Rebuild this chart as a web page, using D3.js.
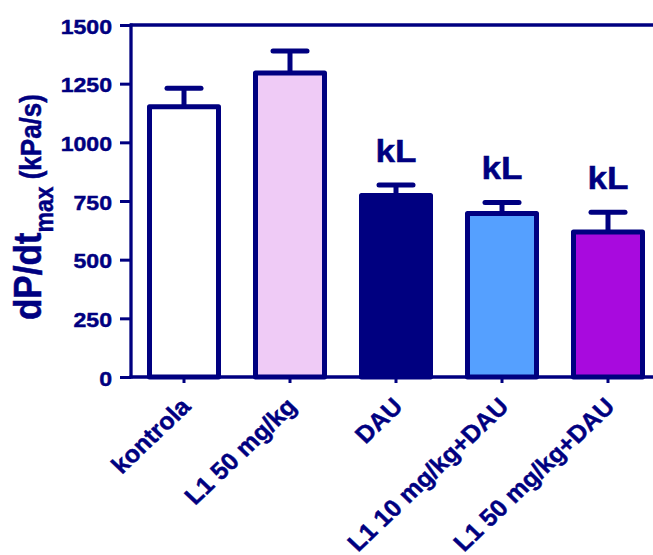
<!DOCTYPE html>
<html>
<head>
<meta charset="utf-8">
<script src="https://cdn.jsdelivr.net/npm/d3@7/dist/d3.min.js"></script>
<style>
  html, body { margin: 0; padding: 0; background: #fff; }
  svg { display: block; }
  text { font-family: "Liberation Sans", Arial, Helvetica, sans-serif; font-weight: bold; }
</style>
</head>
<body>
<svg id="chart" width="653" height="555"></svg>
<script>
// Groups, mean dP/dt max and upper error limits (kPa/s)
const groups = ["kontrola", "L1 50 mg/kg", "DAU", "L1 10 mg/kg+DAU", "L1 50 mg/kg+DAU"];
const means = [1152, 1295, 773, 697, 618];
const errorTops = [1230, 1389, 818, 744, 702];
const marks = ["", "", "kL", "kL", "kL"];
const fills = ["#ffffff", "#efcbf6", "#000080", "#55a0ff", "#a80ade"];
const yTicks = [0, 250, 500, 750, 1000, 1250, 1500];

const navy = "#000080";
const stretch = 1.1; // wide lettering

const svg = d3.select("#chart");

const y = d3.scaleLinear().domain([0, 1500]).range([377, 25]);
const x = d3.scaleBand().domain(groups).range([131, 661])
  .paddingInner(0.349).paddingOuter(0.1745);

// heavier glyphs
function heavy(sel) {
  return sel.attr("stroke", navy).attr("stroke-width", 0.45).attr("paint-order", "stroke");
}

// frame line along the top
svg.append("line")
  .attr("x1", 130).attr("x2", 653)
  .attr("y1", y(1500)).attr("y2", y(1500))
  .attr("stroke", navy).attr("stroke-width", 3.3);

// bars
svg.append("g").selectAll("rect").data(groups).join("rect")
  .attr("x", d => x(d))
  .attr("y", (d, i) => y(means[i]))
  .attr("width", x.bandwidth())
  .attr("height", (d, i) => y(0) - y(means[i]))
  .attr("fill", (d, i) => fills[i])
  .attr("stroke", navy)
  .attr("stroke-width", 5)
  .attr("stroke-linejoin", "round");

// error bars
const err = svg.append("g").attr("stroke", navy).attr("stroke-width", 5).attr("stroke-linecap", "round");
groups.forEach((g, i) => {
  const cx = x(g) + x.bandwidth() / 2;
  err.append("line").attr("x1", cx).attr("x2", cx)
    .attr("y1", y(means[i])).attr("y2", y(errorTops[i])).attr("stroke-linecap", "butt");
  err.append("line").attr("x1", cx - 17).attr("x2", cx + 17)
    .attr("y1", y(errorTops[i])).attr("y2", y(errorTops[i]));
});

// significance marks
groups.forEach((g, i) => {
  if (!marks[i]) return;
  const cx = x(g) + x.bandwidth() / 2;
  svg.append("text")
    .attr("transform", `translate(${cx},${y(errorTops[i]) - 23}) scale(${stretch},1)`)
    .attr("text-anchor", "middle")
    .attr("font-size", 32)
    .attr("fill", navy)
    .call(heavy)
    .text(marks[i]);
});

// y axis
const yAxis = svg.append("g").attr("transform", "translate(131,0)")
  .call(d3.axisLeft(y).tickValues(yTicks).tickSize(11).tickPadding(5).tickFormat(d3.format("d")));
yAxis.select(".domain").attr("stroke", navy).attr("stroke-width", 3.3)
  .attr("d", `M0,${y(1500) - 1.6}V${y(0) + 1.6}`);
yAxis.selectAll(".tick line").attr("stroke", navy).attr("stroke-width", 3);
yAxis.selectAll(".tick text")
  .attr("fill", navy).attr("font-size", 21)
  .attr("font-family", null)
  .attr("x", null).attr("dy", null)
  .attr("dominant-baseline", "central")
  .attr("transform", `translate(-19,1) scale(${stretch},1)`)
  .call(heavy);

// x axis
const xAxis = svg.append("g").attr("transform", `translate(0,${y(0)})`)
  .call(d3.axisBottom(x).tickSize(6).tickPadding(0));
xAxis.select(".domain").attr("stroke", navy).attr("stroke-width", 3.3)
  .attr("d", "M129.5,0H653");
xAxis.selectAll(".tick line").attr("stroke", navy).attr("stroke-width", 3);
xAxis.selectAll(".tick text")
  .attr("fill", navy).attr("font-size", 24)
  .attr("font-family", null)
  .attr("y", null).attr("dy", null)
  .attr("text-anchor", "end")
  .attr("transform", "translate(8,31) scale(1.05,1) rotate(-45)")
  .call(heavy);

// y axis title
const title = svg.append("text")
  .attr("transform", `translate(41,320) scale(${stretch},1) rotate(-90)`)
  .attr("fill", navy)
  .attr("text-anchor", "start")
  .call(heavy);
title.append("tspan").attr("font-size", 35).text("dP/dt");
title.append("tspan").attr("font-size", 23).attr("dy", 11).text("max");
title.append("tspan").attr("font-size", 26).attr("dy", -11).text(" (kPa/s)");
</script>
</body>
</html>
